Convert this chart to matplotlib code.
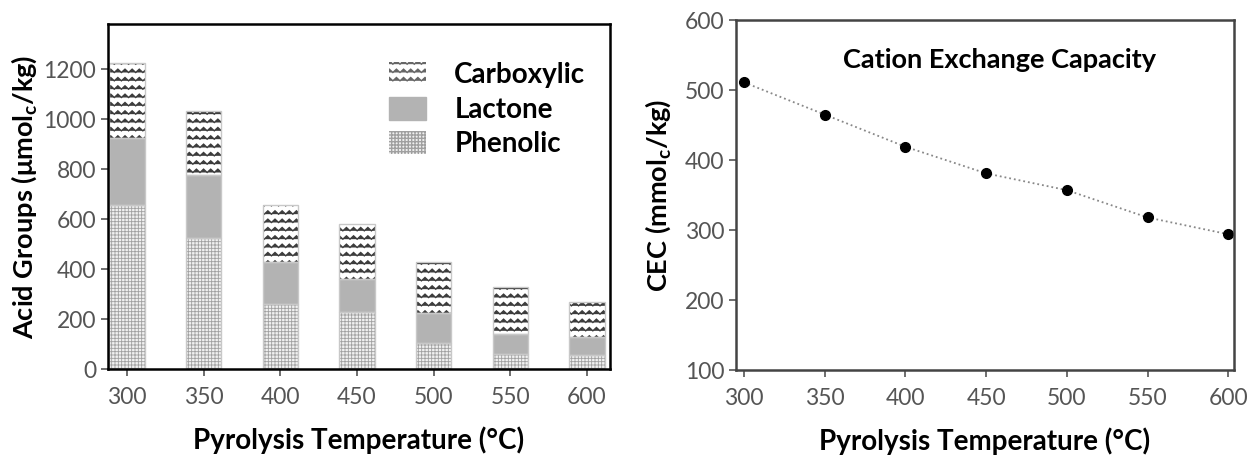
import warnings
import numpy as np
import matplotlib
matplotlib.use('Agg')
import matplotlib.pyplot as plt
import matplotlib.hatch as mhatch
from matplotlib.path import Path
from matplotlib.patches import Patch

warnings.filterwarnings('ignore')

# datos
temps = [300, 350, 400, 450, 500, 550, 600]
phenolic = [655, 526, 259, 227, 103, 61, 56]
lactone = [271, 251, 170, 132, 122, 79, 71]
carboxylic = [298, 256, 229, 222, 202, 188, 141]
cec = [511, 465, 419, 381, 357, 318, 294]

plt.rcParams['font.family'] = ['Lato', 'DejaVu Sans']
plt.rcParams['mathtext.default'] = 'regular'


# hatch en zigzag (no existe en matplotlib)
class ZigZagHatch(mhatch.HatchPatternBase):
    def __init__(self, hatch, density):
        self.num_rows = int(hatch.count('z') * density)
        self.num_peaks = self.num_rows + 2 if self.num_rows else 0
        self.num_vertices = self.num_rows * (2 * self.num_peaks + 1)

    def set_vertices_and_codes(self, vertices, codes):
        n, k = self.num_rows, self.num_peaks
        xs = np.linspace(0, 1, 2 * k + 1)
        amp = 0.2 / n
        offs = np.where(np.arange(2 * k + 1) % 2 == 0, -amp, amp)
        m = 2 * k + 1
        for i in range(n):
            y0 = (i + 0.5) / n
            vertices[i*m:(i+1)*m, 0] = xs
            vertices[i*m:(i+1)*m, 1] = y0 + offs
            codes[i*m:(i+1)*m] = Path.LINETO
            codes[i*m] = Path.MOVETO


mhatch._hatch_types.append(ZigZagHatch)

fig = plt.figure(figsize=(12.51, 4.55), dpi=100)
ax1 = fig.add_axes([0.0863, 0.189, 0.4013, 0.758])
ax2 = fig.add_axes([0.5883, 0.1868, 0.398, 0.769])

w = 23
bot2 = np.array(phenolic) + np.array(lactone)

plt.rcParams['hatch.linewidth'] = 0.6
b1 = ax1.bar(temps, phenolic, w, color='#f0f0f0', edgecolor='#a0a0a0', linewidth=0, hatch='+++++')
b2 = ax1.bar(temps, lactone, w, bottom=phenolic, color='#b3b3b3', linewidth=0)
plt.rcParams['hatch.linewidth'] = 1.0
b3 = ax1.bar(temps, carboxylic, w, bottom=bot2, color='white', edgecolor='#3c3c3c', linewidth=0, hatch='zz')
for b in b1:
    if hasattr(b, 'set_hatch_linewidth'):
        b.set_hatch_linewidth(0.6)
for b in b3:
    if hasattr(b, 'set_hatch_linewidth'):
        b.set_hatch_linewidth(1.0)
# contorno claro de las barras
ax1.bar(temps, phenolic, w, fill=False, edgecolor='#c8c8c8', linewidth=1)
ax1.bar(temps, lactone, w, bottom=phenolic, fill=False, edgecolor='#c8c8c8', linewidth=1)
ax1.bar(temps, carboxylic, w, bottom=bot2, fill=False, edgecolor='#c8c8c8', linewidth=1)

ax1.set_xlim(287.6, 615)
ax1.set_ylim(0, 1380)
ax1.set_xticks(temps)
ax1.set_yticks(np.arange(0, 1201, 200))
ax1.set_ylabel('Acid Groups (μmol$_c$/kg)', fontsize=19.5, fontweight='bold', labelpad=3)
ax1.set_xlabel('Pyrolysis Temperature (°C)', fontsize=20, fontweight='bold', labelpad=13)

plt.rcParams['hatch.linewidth'] = 1.0
handles = [Patch(facecolor='white', edgecolor='#666666', hatch='zz', linewidth=0),
           Patch(facecolor='#b3b3b3', edgecolor='#b3b3b3'),
           Patch(facecolor='#f0f0f0', edgecolor='#a0a0a0', hatch='+++++', linewidth=0)]
leg = ax1.legend(handles, ['Carboxylic', 'Lactone', 'Phenolic'], loc='upper left',
                 bbox_to_anchor=(0.51, 0.962), frameon=False, fontsize=20,
                 handlelength=1.35, handleheight=0.9, handletextpad=1.0, labelspacing=0.3)
for t in leg.get_texts():
    t.set_fontweight('bold')

# CEC
ax2.plot(temps, cec, color='#888888', linestyle=':', linewidth=1.3, marker='o',
         markersize=7, markerfacecolor='black', markeredgecolor='black')
ax2.set_xlim(295, 603.5)
ax2.set_ylim(100, 600)
ax2.set_xticks(temps)
ax2.set_yticks(np.arange(100, 601, 100))
ax2.set_ylabel('CEC (mmol$_c$/kg)', fontsize=19.5, fontweight='bold', labelpad=8)
ax2.set_xlabel('Pyrolysis Temperature (°C)', fontsize=20, fontweight='bold', labelpad=13)
ax2.text(0.53, 0.885, 'Cation Exchange Capacity', transform=ax2.transAxes,
         ha='center', va='center', fontsize=19.5, fontweight='bold')

for ax, sc in [(ax1, 'black'), (ax2, '#444444')]:
    for s in ax.spines.values():
        s.set_color(sc)
        s.set_linewidth(1.8)
    ax.tick_params(axis='both', labelsize=16.5, labelcolor='#555555', color='#555555',
                   length=5, width=1.2, direction='out')
    ax.tick_params(axis='x', pad=8)

fig.savefig('out.png', dpi=100)
